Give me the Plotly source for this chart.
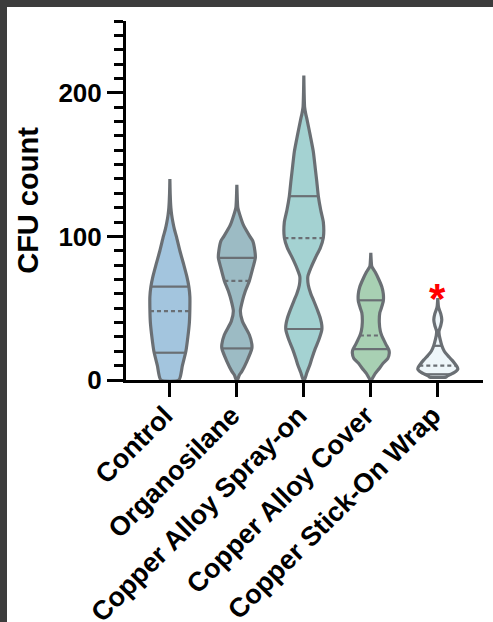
import numpy as np
import plotly.graph_objects as go

categories = ["Control", "Organosilane", "Copper Alloy Spray-on",
              "Copper Alloy Cover", "Copper Stick-On Wrap"]

# Violin density profiles (CFU level, relative density)
control_cfu = [0, 10, 20, 30, 40, 50, 58, 65, 72, 80, 90, 100, 105, 110, 115, 120, 130, 140]
control_density = [9, 12.5, 16, 18, 19.5, 20, 20, 19, 17, 14, 10, 6.5, 4.5, 3, 1.8, 1, 0.3, 0]

organo_cfu = [0, 3.5, 6, 13, 22, 25, 31.5, 41, 48, 55, 62, 69, 78, 85, 90, 96.7, 100, 108, 115, 120, 125, 136]
organo_density = [0.5, 2.5, 5, 10, 15, 15, 12.5, 5.5, 3.5, 5.5, 8.5, 12.5, 16, 18.5, 18, 16, 13, 6.5, 3, 1, 0.5, 0]

spray_cfu = [0, 5, 10.5, 15, 22, 28, 35, 38, 43, 48, 55, 60, 66, 72, 78, 85, 92, 99, 110, 118,
             128, 138, 147, 159, 170, 182, 185, 190, 200, 212]
spray_density = [0.5, 3, 6, 8, 11.5, 15, 18, 18, 16.5, 14, 10, 7, 4.5, 4, 7, 11.5, 16.5, 19.5, 19.5, 17,
                 14.5, 13, 11.5, 9.5, 6.5, 3, 2, 0.8, 0.3, 0]

cover_cfu = [0, 4.6, 8, 11.8, 15, 18.8, 21, 25, 30.8, 34, 40, 46.8, 50, 55, 60, 65, 70, 75, 79, 82, 88.5]
cover_density = [0.5, 4.5, 8.5, 12.5, 17, 18.5, 18, 15, 11, 9.5, 8.5, 9, 10.5, 12.5, 12.5, 11, 8, 4.5, 1, 0.5, 0]

wrap_cfu = [2, 2.5, 4, 6, 7.5, 9, 11, 14, 17, 20, 24, 28, 31, 34, 38, 42, 46, 50, 52, 57]
wrap_density = [8, 9, 13, 18, 20, 19.5, 17.5, 14, 10, 6.5, 4, 2.5, 1.5, 1.2, 3, 4, 3, 1, 0.5, 0]

q1_values = [19, 22, 35.5, 21.5, 4]
median_values = [48, 69, 98.8, 31, 10]
q3_values = [65, 85, 128, 55.5, 23.8]

significance_label = ["", "", "", "", "*"]
significance_level = [None, None, None, None, 61]

profiles = [(control_cfu, control_density), (organo_cfu, organo_density),
            (spray_cfu, spray_density), (cover_cfu, cover_density),
            (wrap_cfu, wrap_density)]

fills = ["#a3c5de", "#9cbbc4", "#a4d2d2", "#a8d0b3", "#eef6fa"]
outline = "#6a6f74"
width_per_density = 1 / 67.0

fig = go.Figure()
for i, (cfu, dens) in enumerate(profiles):
    cfu = np.array(cfu, dtype=float)
    d = np.array(dens, dtype=float) * width_per_density
    xs = np.concatenate([i + d, (i - d)[::-1], [i + d[0]]])
    ys = np.concatenate([cfu, cfu[::-1], [cfu[0]]])
    fig.add_trace(go.Scatter(
        x=xs, y=ys, mode="lines", fill="toself", fillcolor=fills[i],
        line=dict(color=outline, width=3.2, shape="spline", smoothing=0.6),
        hoverinfo="skip", showlegend=False))
    for q, dash in ((q1_values[i], "solid"), (median_values[i], "4px,3px"),
                    (q3_values[i], "solid")):
        w = float(np.interp(q, cfu, d))
        fig.add_trace(go.Scatter(
            x=[i - w, i + w], y=[q, q], mode="lines",
            line=dict(color=outline, width=2.2, dash=dash),
            hoverinfo="skip", showlegend=False))

for i, (lab, lev) in enumerate(zip(significance_label, significance_level)):
    if lab:
        fig.add_annotation(x=i, y=lev, xref="x", yref="y", text=lab, showarrow=False,
                           font=dict(size=42, color="red", weight="bold"),
                           xanchor="center", yanchor="middle", yshift=-6)

fig.update_layout(
    width=486, height=615,
    margin=dict(l=119, r=10, t=14, b=242),
    paper_bgcolor="white", plot_bgcolor="white",
    font=dict(family="Arial, 'Liberation Sans', sans-serif", color="black"),
    showlegend=False,
)
fig.update_xaxes(
    range=[-0.655, 4.675], tickmode="array", tickvals=list(range(len(categories))),
    ticktext=categories, tickangle=-45, ticks="outside", ticklen=14, tickwidth=3,
    tickcolor="black", showline=True, linewidth=3, linecolor="black",
    showgrid=False, zeroline=False, tickfont=dict(size=27, weight="bold"),
    ticklabelshift=-5, ticklabelstandoff=-8,
    automargin=False,
)
fig.update_yaxes(
    range=[0, 250], tickmode="array", tickvals=[0, 100, 200],
    ticks="outside", ticklen=16, tickwidth=3, tickcolor="black",
    minor=dict(tickmode="linear", tick0=0, dtick=10, ticks="outside", ticklen=9,
               tickwidth=3, tickcolor="black", showgrid=False),
    showline=True, linewidth=3, linecolor="black", showgrid=False, zeroline=False,
    tickfont=dict(size=26, weight="bold"),
    title=dict(text="CFU count", font=dict(size=29, weight="bold"), standoff=12),
    automargin=False,
)

fig.write_html("out.html", post_script=(
    "document.body.style.margin='7px 0 0 7px';"
    "document.body.style.background='#3c3c3c';"
    "document.body.style.overflow='hidden';"))
